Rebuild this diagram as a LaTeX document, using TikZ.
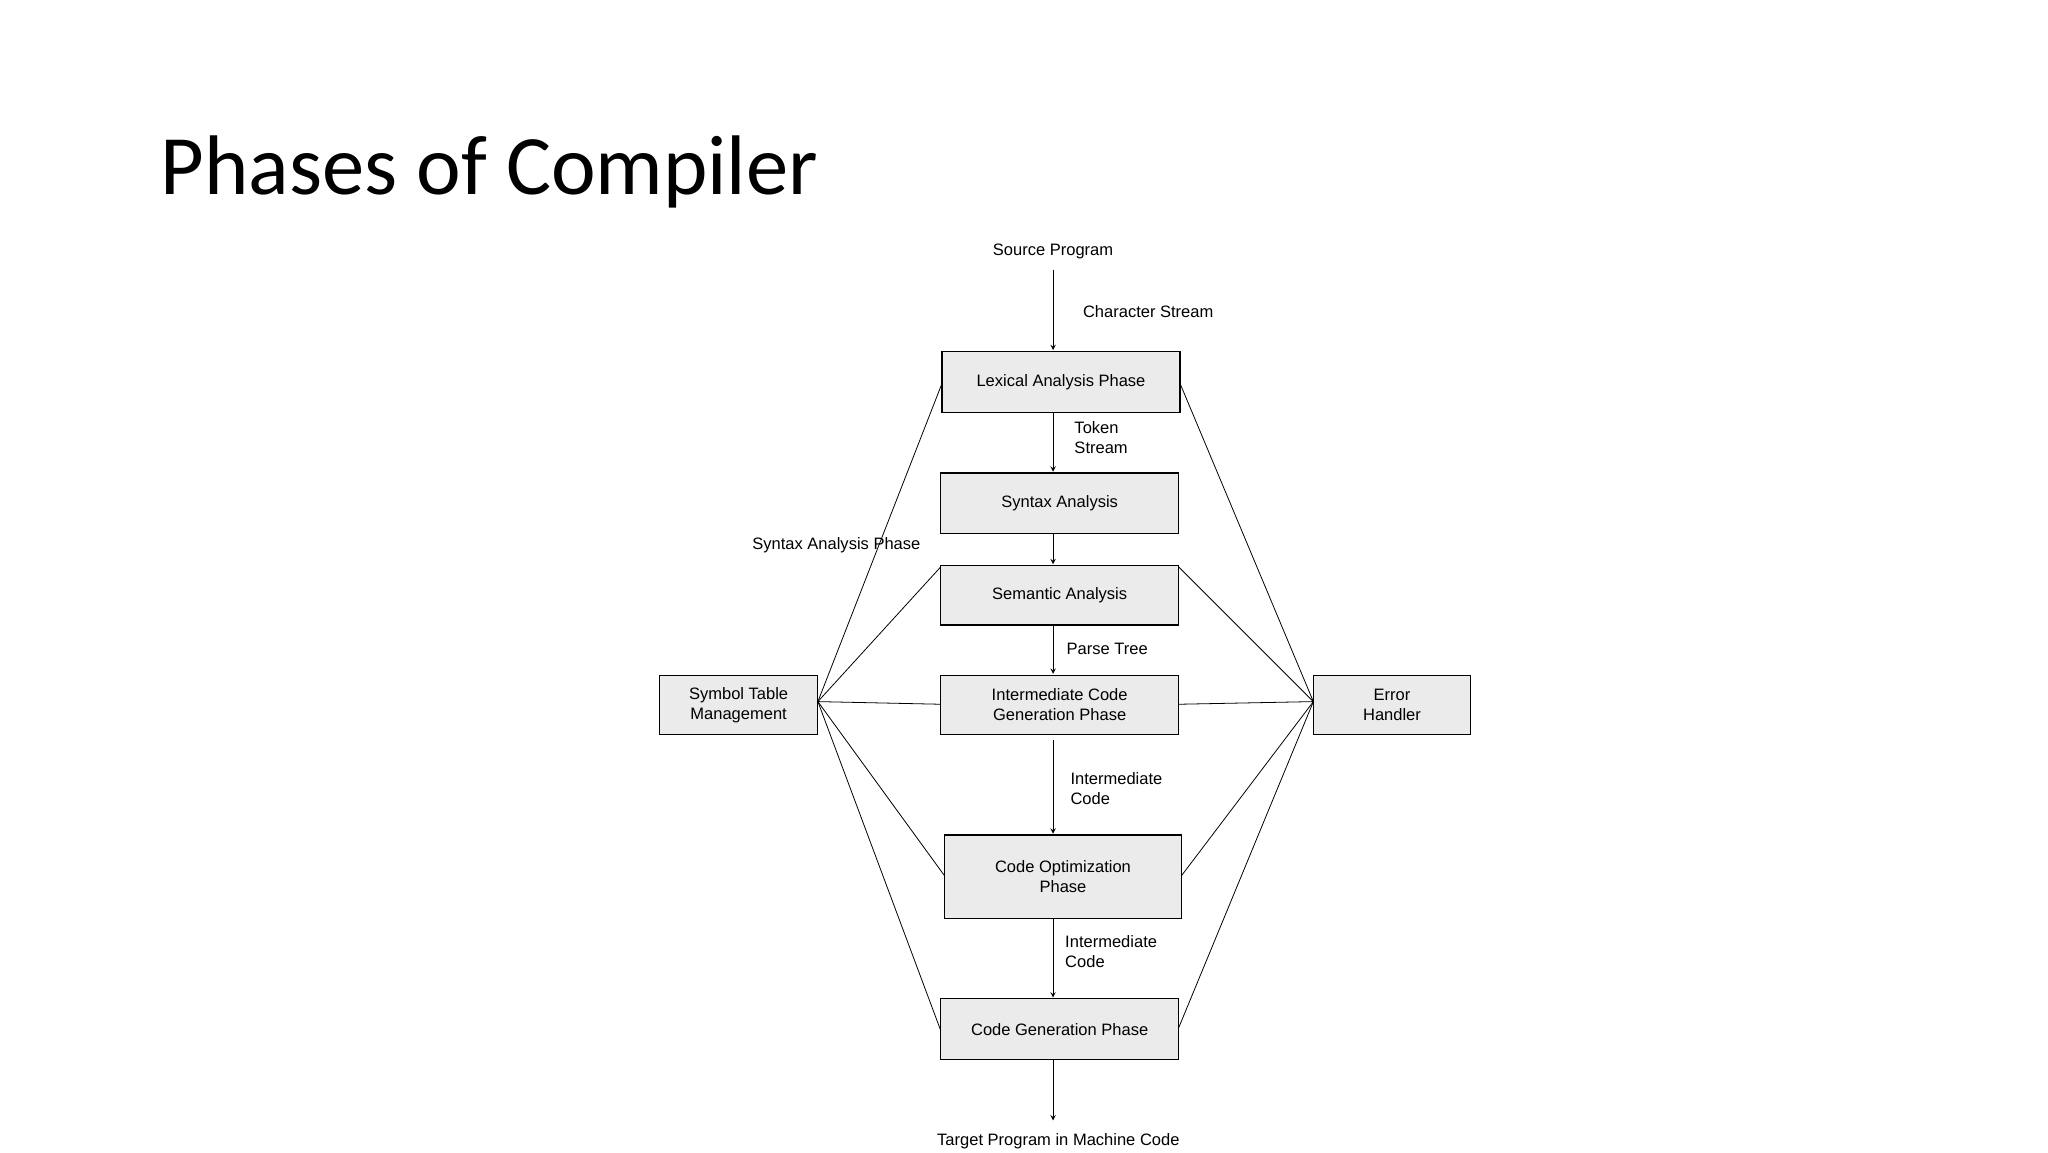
\documentclass[tikz,border=0pt]{standalone}
\usepackage{fontspec}
\setmainfont{Liberation Sans}
\newfontfamily\titlefont{Carlito}
\begin{document}
\begin{tikzpicture}[x=1pt,y=-1pt,
 box/.style={draw=black,fill=black!8,line width=0.9pt,inner sep=0pt,align=center,font=\fontsize{12.5}{15}\selectfont},
 lbl/.style={font=\fontsize{12.5}{15}\selectfont,inner sep=0pt,align=left},
 arr/.style={->,>=stealth,line width=0.8pt},
 ln/.style={line width=0.6pt}]
\useasboundingbox[fill=white] (0,0) rectangle (1550,872);
\node[font=\titlefont\fontsize{64}{70}\selectfont,anchor=west] (title) at (118,130) {Phases of Compiler};
\node[box,minimum width=180pt,minimum height=46pt] (lex) at (803,289) {Lexical Analysis Phase};
\node[box,minimum width=180pt,minimum height=46pt] (syn) at (802,381) {Syntax Analysis};
\node[box,minimum width=180pt,minimum height=45pt] (sem) at (802,450.5) {Semantic Analysis};
\node[box,minimum width=180pt,minimum height=45pt] (icg) at (802,533.5) {Intermediate Code\\Generation Phase};
\node[box,minimum width=179pt,minimum height=63pt] (opt) at (804.5,663.5) {Code Optimization\\Phase};
\node[box,minimum width=180pt,minimum height=46pt] (gen) at (802,779) {Code Generation Phase};
\node[box,minimum width=120pt,minimum height=45pt] (sym) at (559,533.5) {Symbol Table\\Management};
\node[box,minimum width=119pt,minimum height=45pt] (err) at (1053.5,533.5) {Error\\Handler};
\node[lbl] (src) at (797,190) {Source Program};
\node[lbl] (tgt) at (801,864) {Target Program in Machine Code};
\node[lbl] (cs) at (869,236) {Character Stream};
\node[lbl,anchor=west] (ts) at (813,331) {Token\\Stream};
\node[lbl] (sap) at (633,413) {Syntax Analysis Phase};
\node[lbl] (pt) at (838,491) {Parse Tree};
\node[lbl,anchor=west] (ic1) at (810,597) {Intermediate\\Code};
\node[lbl,anchor=west] (ic2) at (806,720) {Intermediate\\Code};
\draw[arr] (797,204) -- (797,265);
\draw[arr] (797,312) -- (797,357);
\draw[arr] (797,404) -- (797,427);
\draw[arr] (797,473) -- (797,510);
\draw[arr] (797,560) -- (797,631);
\draw[arr] (797,695) -- (797,755);
\draw[arr] (797,802) -- (797,848);
\coordinate (sR) at (619,531);
\coordinate (eL) at (994,531);
\draw[ln] (sR) -- (713,290);
\draw[ln] (sR) -- (712,429);
\draw[ln] (sR) -- (712,533);
\draw[ln] (sR) -- (715,663);
\draw[ln] (sR) -- (712,780);
\draw[ln] (eL) -- (893,290);
\draw[ln] (eL) -- (892,429);
\draw[ln] (eL) -- (892,533);
\draw[ln] (eL) -- (894,663);
\draw[ln] (eL) -- (892,778);
\end{tikzpicture}
\end{document}
